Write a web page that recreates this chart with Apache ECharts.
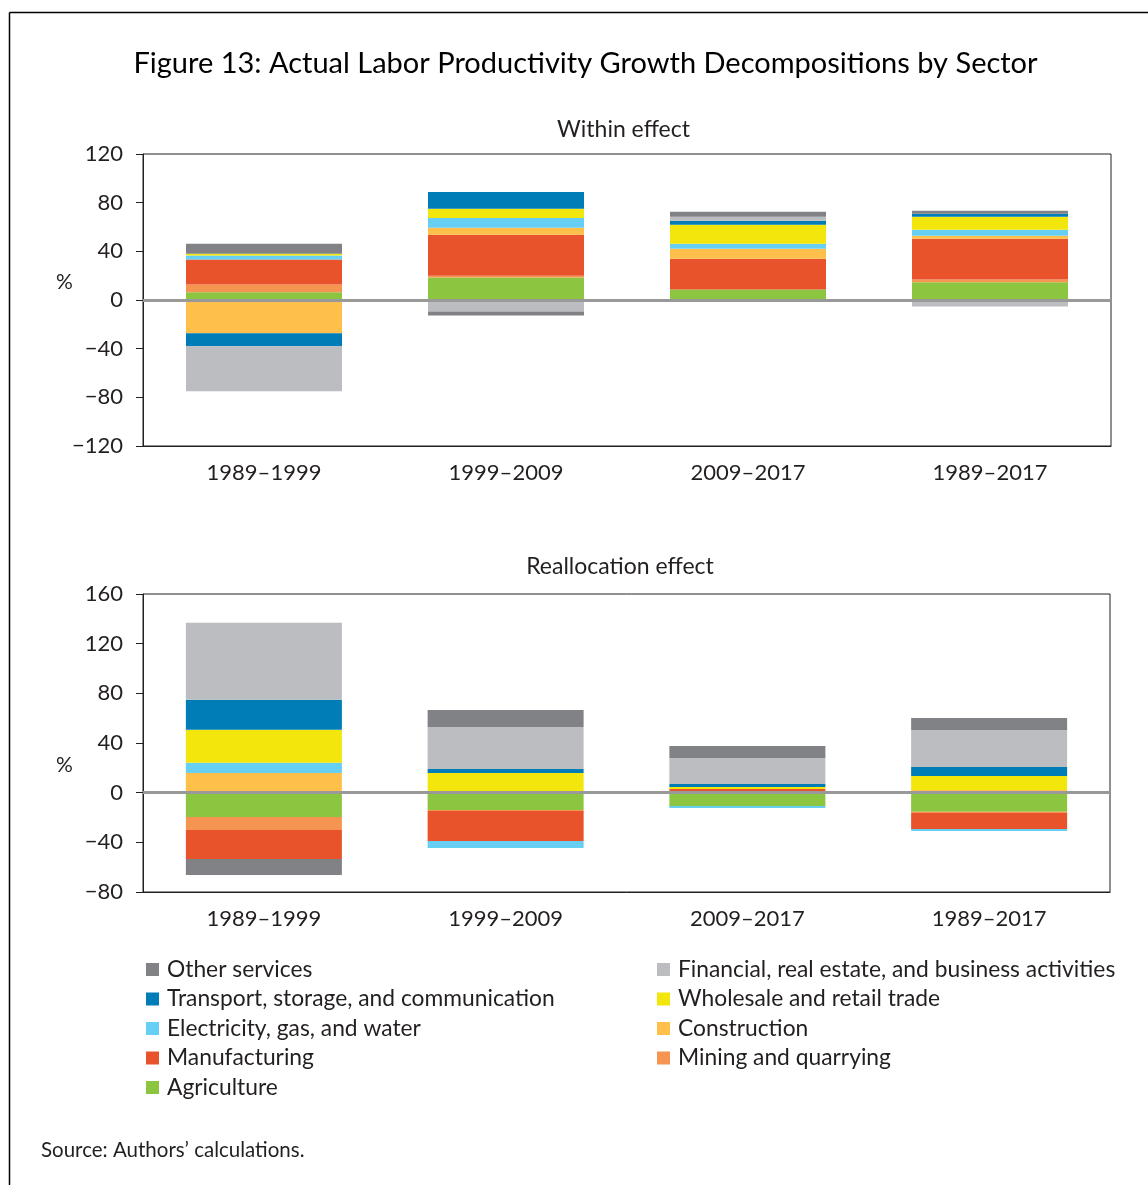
<!DOCTYPE html>
<html>
<head>
<meta charset="utf-8">
<script src="https://cdn.jsdelivr.net/npm/echarts@6/dist/echarts.min.js"></script>
<style>
html,body{margin:0;padding:0;background:#fff;}
#chart{width:1148px;height:1185px;}
</style>
</head>
<body>
<div id="chart"></div>
<script>
// ---- Data ----
const categories = ['1989\u20131999', '1999\u20132009', '2009\u20132017', '1989\u20132017'];
const sectorNames = ['Agriculture', 'Mining and quarrying', 'Manufacturing', 'Construction',
  'Electricity, gas, and water', 'Wholesale and retail trade',
  'Transport, storage, and communication', 'Financial, real estate, and business activities', 'Other services'];
const sectorColors = ['#8cc540', '#f69552', '#e9532b', '#ffbf4b', '#67cef4', '#f2e60c', '#007db7', '#bcbdc0', '#818285'];

// Within effect (%)
const withinAgriculture   = [6.4, 18.4, 8.6, 14.6];
const withinMining        = [6.3, 1.6, 0, 2.2];
const withinManufacturing = [20.5, 33.6, 25.4, 33.6];
const withinConstruction  = [-27.4, 5.7, 8.2, 2.5];
const withinElectricity   = [3.3, 8.2, 4.1, 4.9];
const withinWholesale     = [1.6, 7.4, 15.6, 10.6];
const withinTransport     = [-10.6, 13.9, 3.3, 2.5];
const withinFinancial     = [-36.9, -9.4, 3.3, -5.3];
const withinOther         = [8.2, -3.3, 4.1, 2.5];

// Reallocation effect (%)
const reallocAgriculture   = [-19.6, -13.9, -10.7, -15.3];
const reallocMining        = [-10.5, -0.8, 0, -1.0];
const reallocManufacturing = [-23.4, -24.2, 3.0, -12.9];
const reallocConstruction  = [15.9, 0, 0, 2.2];
const reallocElectricity   = [8.1, -5.6, -1.6, -1.6];
const reallocWholesale     = [26.6, 15.9, 1.6, 11.3];
const reallocTransport     = [24.2, 3.2, 2.4, 7.2];
const reallocFinancial     = [62.0, 33.8, 20.9, 29.8];
const reallocOther         = [-12.9, 13.7, 9.7, 9.7];

const withinTicks = [-120, -80, -40, 0, 40, 80, 120];
const reallocTicks = [-80, -40, 0, 40, 80, 120, 160];

const withinData = [withinAgriculture, withinMining, withinManufacturing, withinConstruction,
  withinElectricity, withinWholesale, withinTransport, withinFinancial, withinOther];
const reallocData = [reallocAgriculture, reallocMining, reallocManufacturing, reallocConstruction,
  reallocElectricity, reallocWholesale, reallocTransport, reallocFinancial, reallocOther];

// ---- Chart ----
const FONT = 'Lato';
const TXT = '#231f20';
const chart = echarts.init(document.getElementById('chart'));

function makeSeries(dataArr, idx, stack) {
  return dataArr.map((d, i) => {
    const s = {
      name: sectorNames[i],
      type: 'bar',
      stack: stack,
      xAxisIndex: idx,
      yAxisIndex: idx,
      barWidth: 156,
      data: d,
      itemStyle: { color: sectorColors[i] },
      emphasis: { disabled: true },
      animation: false
    };
    if (i === dataArr.length - 1) {
      s.markLine = {
        silent: true,
        symbol: ['none', 'none'],
        label: { show: false },
        lineStyle: { color: '#999999', width: 3, type: 'solid' },
        data: [{ yAxis: 0 }],
        animation: false
      };
    }
    return s;
  });
}

function yAxisOf(idx, ticks) {
  return {
    type: 'value', gridIndex: idx,
    min: ticks[0], max: ticks[ticks.length - 1], interval: 40,
    axisLine: { show: true, lineStyle: { color: TXT, width: 1 } },
    axisTick: { show: true, inside: false, length: 7, lineStyle: { color: TXT } },
    splitLine: { show: false },
    axisLabel: { color: TXT, fontFamily: FONT, fontSize: 22, margin: 20,
      formatter: v => (v < 0 ? '\u2212' + Math.abs(v) : String(v)) }
  };
}
function xAxisOf(idx) {
  return {
    type: 'category', gridIndex: idx, data: categories,
    axisLine: { show: true, onZero: false, lineStyle: { color: TXT, width: 1 } },
    axisTick: { show: false },
    axisLabel: { color: TXT, fontFamily: FONT, fontSize: 22, margin: 16 }
  };
}

const legendCommon = {
  orient: 'vertical', icon: 'rect', itemWidth: 13, itemHeight: 13, itemGap: 6.5, padding: 0,
  textStyle: { color: TXT, fontFamily: FONT, fontSize: 22.8, lineHeight: 23, padding: [0, 0, 0, 3] },
  selectedMode: false
};

const option = {
  backgroundColor: '#ffffff',
  animation: false,
  textStyle: { fontFamily: FONT },
  title: [
    { text: 'Figure 13: Actual Labor Productivity Growth Decompositions by Sector',
      left: 585.5, top: 49, textAlign: 'center', padding: 0,
      textStyle: { fontFamily: FONT, fontSize: 29, fontWeight: 'normal', color: '#000' } },
    { text: 'Within effect', left: 623.5, top: 118, textAlign: 'center', padding: 0,
      textStyle: { fontFamily: FONT, fontSize: 23, fontWeight: 'normal', color: TXT } },
    { text: 'Reallocation effect', left: 620, top: 555, textAlign: 'center', padding: 0,
      textStyle: { fontFamily: FONT, fontSize: 23, fontWeight: 'normal', color: TXT } }
  ],
  grid: [
    { left: 143, top: 154, width: 968, height: 292, show: true, borderColor: TXT, borderWidth: 1, backgroundColor: 'transparent' },
    { left: 143, top: 594, width: 967, height: 298, show: true, borderColor: TXT, borderWidth: 1, backgroundColor: 'transparent' }
  ],
  xAxis: [xAxisOf(0), xAxisOf(1)],
  yAxis: [yAxisOf(0, withinTicks), yAxisOf(1, reallocTicks)],
  legend: [
    Object.assign({}, legendCommon, { left: 146, top: 958,
      data: [sectorNames[8], sectorNames[6], sectorNames[4], sectorNames[2], sectorNames[0]] }),
    Object.assign({}, legendCommon, { left: 657, top: 958,
      data: [sectorNames[7], sectorNames[5], sectorNames[3], sectorNames[1]] })
  ],
  graphic: [
    { type: 'line', shape: { x1: 9.5, y1: 12.5, x2: 1148, y2: 12.5 }, style: { stroke: '#000', lineWidth: 1.5 } },
    { type: 'line', shape: { x1: 9.5, y1: 12.5, x2: 9.5, y2: 1185 }, style: { stroke: '#000', lineWidth: 1.5 } },
    { type: 'text', left: 56, top: 272, style: { text: '%', fontFamily: FONT, fontSize: 21, fill: TXT } },
    { type: 'text', left: 56, top: 755, style: { text: '%', fontFamily: FONT, fontSize: 21, fill: TXT } },
    { type: 'text', left: 41, top: 1140, style: { text: 'Source: Authors\u2019 calculations.', fontFamily: FONT, fontSize: 20.5, fill: TXT } }
  ],
  series: [].concat(makeSeries(withinData, 0, 'within'), makeSeries(reallocData, 1, 'realloc'))
};
chart.setOption(option);
</script>
</body>
</html>
